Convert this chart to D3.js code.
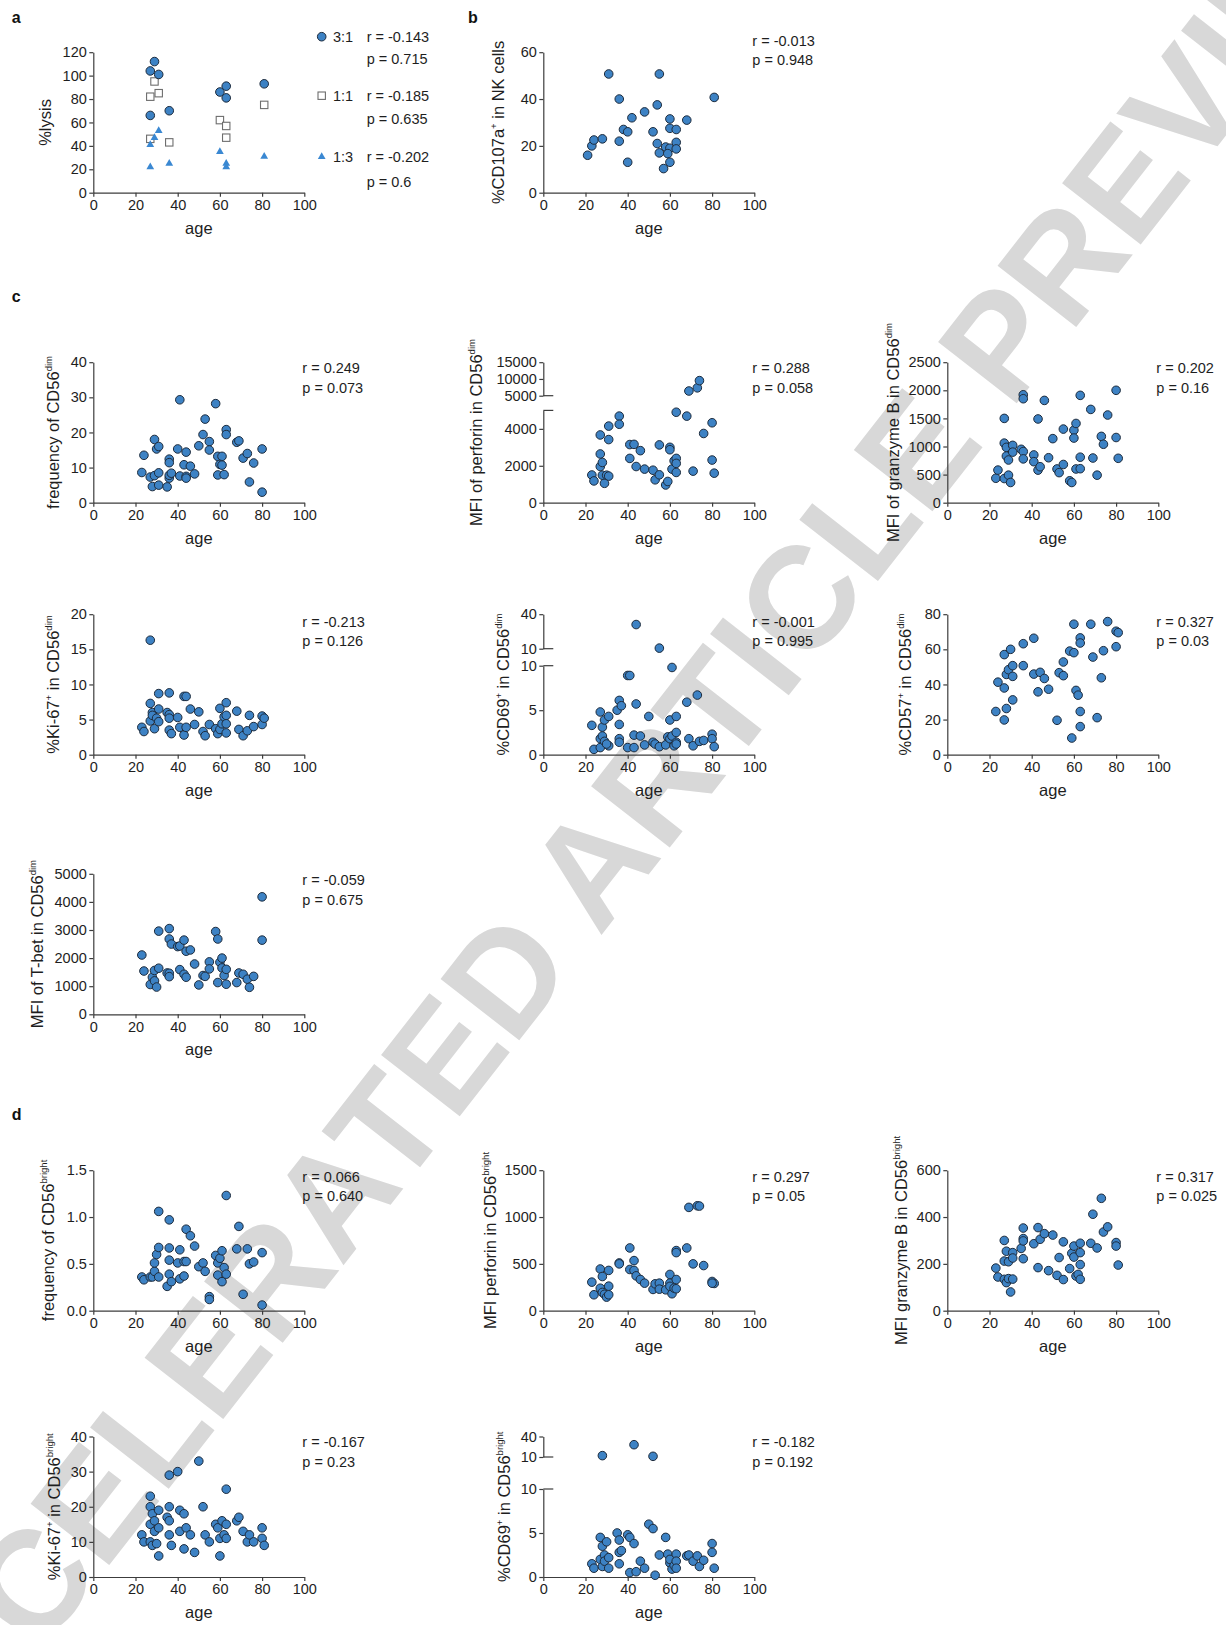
<!DOCTYPE html>
<html><head><meta charset="utf-8">
<script src="https://cdn.jsdelivr.net/npm/d3@7"></script>
<style>body{margin:0;background:#fff} svg{display:block}</style>
</head><body><svg id="fig" width="1226" height="1625"></svg>
<script>
// ---------------- DATA ----------------
const xTicks = [0, 20, 40, 60, 80, 100];
// panel a: %lysis at effector:target ratios
const lysis31 = [[27,104],[29,112],[31,101],[27,66],[36,70],[60,86],[63,91],[63,81],[81,93]];
const lysis11 = [[29,95],[27,82],[31,85],[27,46],[36,43],[60,62],[63,57],[63,47],[81,75]];
const lysis13 = [[27,41],[29,47],[31,53],[27,22],[36,25],[60,35],[63,25],[63,22],[81,31]];
const lysisStats = [["3:1","r = -0.143","p = 0.715"],["1:1","r = -0.185","p = 0.635"],["1:3","r = -0.202","p = 0.6"]];
// panel b
const cd107a = [[21,16],[23,20],[24,22.5],[28,23],[31,50.7],[36,40],[36,22],[38,27],[40,26],[40,13],[42,32],[48,34.5],[52,26],[54,37.5],[55,50.7],[54,21],[55,17],[57,10.3],[58,19.5],[60,19],[59,16.7],[60,31.5],[60,27.5],[60,13],[63,27],[63,21.5],[63,18.7],[68,31],[81,40.7]];
// panel c (CD56dim)
const freqDim = [[23,8.6],[24,13.5],[27,7.3],[28,4.6],[29,18],[30,15.3],[31,16],[29,7.7],[31,8.5],[31,5],[35,4.5],[36,12.4],[36,11.4],[36,7],[36,7.8],[37,8.4],[40,15.3],[41,29.3],[41,7.6],[43,10.8],[44,7.5],[44,7],[44,14.4],[46,10.4],[48,8.2],[50,16.2],[52,19.4],[53,23.8],[55,17.4],[55,15],[58,28.2],[59,13.2],[61,13.2],[60,10.9],[61,10.7],[59,7.9],[62,8],[63,20.8],[63,19.4],[68,17.2],[69,17.6],[71,12.7],[73,14],[74,5.9],[76,11.3],[80,15.3],[80,3]];
const perfDim = [[23,1500],[24,1180],[27,3670],[27,2640],[27,1960],[28,2180],[28,1490],[29,1050],[30,1490],[31,4150],[31,3420],[31,1440],[36,4690],[36,4250],[41,3150],[41,2400],[43,3160],[44,1960],[46,2820],[48,1820],[52,1760],[53,1240],[55,3130],[55,1510],[58,960],[59,1150],[60,3000],[60,2870],[61,1820],[62,2270],[63,2400],[63,2130],[63,1640],[63,4900],[68,4690],[71,1710],[76,3750],[80,4330],[80,2310],[81,1600],[69,6400],[73,7350],[74,9500]];
const gzbDim = [[23,435],[24,580],[27,1500],[27,1060],[27,430],[28,985],[28,830],[29,760],[29,490],[30,360],[31,1020],[31,900],[35,950],[36,1920],[36,1850],[36,910],[36,780],[41,850],[41,730],[43,1490],[43,580],[44,640],[46,1820],[48,800],[50,1140],[52,600],[53,535],[55,1310],[55,680],[58,390],[59,360],[60,1290],[60,1150],[61,600],[61,1410],[63,1910],[63,810],[63,605],[68,1660],[69,795],[71,490],[73,1180],[74,1040],[76,1560],[80,2000],[80,1160],[81,790]];
const ki67Dim = [[23,3.9],[24,3.3],[27,16.3],[27,7.3],[27,4.8],[28,6],[28,5.6],[29,3.7],[30,5.2],[31,8.7],[31,6.5],[31,4.7],[35,6],[36,8.8],[36,5.7],[36,5.2],[36,3.5],[37,3],[40,5.3],[41,3.9],[43,8.3],[44,8.3],[43,2.8],[44,3.9],[46,6.5],[48,4.3],[50,6.1],[52,3.3],[53,2.7],[55,4.3],[58,3.7],[59,3],[60,6.6],[60,3.6],[61,4.4],[62,5.4],[63,7.4],[63,5.6],[63,4.4],[63,3.1],[68,6.2],[69,3.6],[71,2.7],[73,3.4],[74,5.6],[76,4],[80,5.5],[80,4.3],[81,5.2]];
const cd69Dim = [[23,3.3],[24,0.6],[27,4.8],[27,0.8],[27,1.8],[28,3.1],[28,2.1],[29,3.9],[29,1.5],[31,4.3],[31,1.0],[30,1.2],[35,5],[36,6.1],[37,5.5],[36,3.4],[36,1.8],[36,1.4],[40,8.9],[41,8.9],[40,0.8],[43,0.8],[43,2.2],[44,5.7],[46,2.1],[48,1.1],[50,4.3],[52,1.4],[53,1.2],[55,0.9],[58,1.1],[59,2.0],[60,3.9],[60,1.8],[61,2.1],[61,9.8],[62,1.0],[63,4.3],[63,2.5],[63,1.4],[63,1.2],[68,5.9],[69,1.8],[71,1.0],[73,6.7],[74,1.5],[76,1.6],[80,2.3],[80,1.8],[81,0.9],[44,31],[55,10.5]];
const cd57Dim = [[23,24.6],[24,41.3],[27,57],[27,38],[27,19.8],[28,45.7],[28,26.3],[29,48.4],[30,60],[31,50.7],[31,44.6],[31,31.2],[36,63.2],[36,50.7],[41,66.3],[41,45.9],[43,35.8],[44,46.9],[46,43.4],[48,37.3],[52,19.6],[53,46.7],[55,52.8],[55,45],[58,59],[60,58.1],[60,74.3],[59,9.5],[61,36.6],[62,33.9],[63,66.5],[63,63.6],[63,24.6],[63,16],[68,74.3],[69,55.6],[71,21.1],[73,43.8],[74,59.2],[76,75.8],[80,70.3],[80,61.5],[81,69.5]];
const tbetDim = [[23,2110],[24,1540],[27,1060],[28,1320],[29,1190],[29,1560],[30,970],[31,2960],[31,1640],[35,1470],[36,3050],[36,2680],[36,1460],[36,1340],[37,2500],[40,2410],[41,2430],[41,1590],[43,2640],[43,1425],[44,2245],[44,1320],[46,2290],[48,1790],[50,1045],[52,1380],[53,1350],[55,1865],[55,1615],[58,2945],[59,2680],[59,1130],[60,1850],[61,2000],[61,1650],[62,1380],[63,1600],[63,1070],[68,1130],[69,1470],[71,1425],[73,1250],[74,960],[76,1350],[80,4180],[80,2640]];
// panel d (CD56bright)
const freqBright = [[23,0.36],[24,0.33],[27,0.36],[28,0.36],[29,0.42],[29,0.51],[30,0.6],[31,0.675],[31,1.06],[31,0.36],[35,0.26],[36,0.97],[36,0.67],[36,0.54],[36,0.39],[37,0.31],[40,0.51],[41,0.65],[41,0.34],[43,0.525],[44,0.525],[43,0.37],[44,0.87],[46,0.8],[48,0.69],[50,0.47],[52,0.51],[53,0.42],[55,0.15],[55,0.12],[58,0.59],[59,0.51],[59,0.38],[60,0.56],[61,0.64],[61,0.31],[62,0.46],[63,1.23],[63,0.39],[68,0.66],[69,0.9],[71,0.175],[73,0.66],[74,0.5],[76,0.52],[80,0.62],[80,0.06]];
const perfBright = [[23,305],[24,170],[27,445],[27,240],[28,365],[28,195],[29,175],[30,145],[31,430],[31,262],[31,170],[36,510],[36,500],[41,670],[41,440],[43,535],[43,430],[44,372],[46,333],[48,294],[52,227],[53,287],[55,294],[55,230],[58,223],[60,387],[60,294],[60,260],[61,181],[62,241],[63,642],[63,620],[63,333],[63,234],[68,670],[69,1103],[71,500],[73,1120],[74,1117],[76,482],[80,312],[81,291],[80,294]];
const gzbBright = [[23,182],[24,144],[27,300],[27,212],[27,134],[28,254],[28,120],[29,209],[29,137],[30,80],[31,248],[31,225],[31,135],[35,266],[36,353],[36,308],[36,298],[36,222],[41,286],[43,355],[43,184],[44,305],[46,329],[48,171],[50,323],[52,151],[53,227],[55,294],[55,133],[58,180],[59,245],[60,276],[60,229],[61,148],[62,155],[63,288],[63,248],[63,197],[63,134],[68,288],[69,412],[71,268],[73,480],[74,336],[76,358],[80,291],[80,276],[81,195]];
const ki67Bright = [[23,12],[24,10],[27,23],[27,20],[27,15],[27,10],[28,18],[28,9],[29,16],[29,13],[30,9.5],[31,19],[31,14],[31,6],[35,17],[36,29],[36,20],[36,16],[36,12],[37,9],[40,30],[41,19],[41,13],[43,18],[43,8],[44,14],[46,12],[48,7],[50,33],[52,20],[53,12],[55,10],[58,15],[59,14],[60,11],[60,6],[61,16],[62,12],[63,25],[63,15],[63,11],[68,16],[69,17],[71,13],[73,10],[74,12],[76,10],[80,14],[80,11],[81,9]];
const cd69Bright = [[23,1.5],[24,1.0],[27,4.5],[27,2.0],[28,3.5],[28,1.2],[29,2.5],[29,1.8],[30,4.0],[31,2.2],[31,1.0],[35,5.0],[36,4.2],[36,2.8],[36,1.5],[37,3.0],[40,4.8],[41,4.5],[41,0.5],[43,3.8],[44,0.6],[46,1.8],[48,1.0],[50,6.0],[52,5.5],[53,0.2],[55,2.5],[58,4.5],[59,2.6],[60,1.6],[60,2.0],[61,0.9],[62,1.3],[63,2.6],[63,1.8],[63,1.0],[68,2.4],[69,2.5],[71,1.8],[73,2.4],[74,1.2],[76,1.9],[80,3.8],[80,2.8],[81,1.0],[28,12],[43,28],[52,11]];

// ---------------- STYLE / LAYOUT ----------------
const FONT = '"Liberation Sans", Arial, Helvetica, sans-serif';
const AXIS = '#3c3c3c', TXT = '#1e1e1e';
const PT_FILL = '#3d82c4', PT_STROKE = '#1d2b3c';
const W = 211, H = 140.5;
const colX = [93.3, 543.3, 947.3];
const rows = {
  ab: {y0: 192.7, rY: 45.7},
  c1: {y0: 502.7, rY: 373.3},
  c2: {y0: 754.7, rY: 626.7},
  c3: {y0: 1014.3, rY: 885},
  d1: {y0: 1310.7, rY: 1181.7},
  d2: {y0: 1577, rY: 1447}
};

const svg = d3.select('#fig');
svg.append('rect').attr('width',1226).attr('height',1625).attr('fill','#fff');

// watermark (behind)
svg.append('text')
  .attr('transform','translate(625,820) rotate(-52)')
  .attr('text-anchor','middle').attr('dy','0.36em')
  .attr('font-family',FONT).attr('font-size',145).attr('font-weight','bold')
  .attr('fill','#d8d8d8')
  .text('ACCELERATED ARTICLE PREVIEW');

function rich(sel, str, fs) {
  const parts = str.split(/(\^\{[^}]*\})/).filter(s => s.length);
  let up = false;
  parts.forEach(p => {
    if (p.startsWith('^{')) {
      sel.append('tspan').attr('font-size', fs*0.58).attr('dy', -fs*0.42).text(p.slice(2,-1));
      up = true;
    } else {
      const t = sel.append('tspan').text(p);
      if (up) { t.attr('dy', fs*0.42); up = false; }
    }
  });
}

function styleAxis(ax) {
  ax.attr('font-family', FONT).attr('font-size', 14.5);
  ax.select('.domain').attr('stroke', AXIS).attr('stroke-width', 1.2);
  ax.selectAll('.tick line').attr('stroke', AXIS).attr('stroke-width', 1.2);
  ax.selectAll('.tick text').attr('fill', TXT);
}

function panel(cfg) {
  const g = svg.append('g');
  const x0 = colX[cfg.col], row = rows[cfg.row], y0 = row.y0;
  const x = d3.scaleLinear().domain([0,100]).range([x0, x0+W]);
  const fmt = cfg.fmt || d3.format('d');
  let yFn;
  const axes = [];
  if (!cfg.broken) {
    const y = d3.scaleLinear().domain([0, cfg.yMax]).range([y0, y0-H]);
    yFn = y; axes.push([y, cfg.ticks]);
  } else {
    const b = cfg.broken;
    const yl = d3.scaleLinear().domain([0, b.lowMax]).range([y0, y0-b.lowPx]);
    const yu = d3.scaleLinear().domain([b.lowMax, b.upMax]).range([y0-b.lowPx-b.gapPx, y0-H]);
    yFn = v => v <= b.lowMax ? yl(v) : yu(v);
    axes.push([yl, b.lowTicks], [yu, b.upTicks]);
    [yl(b.lowMax), yu(b.lowMax)].forEach(yy =>
      g.append('line').attr('x1', x0).attr('x2', x0+10).attr('y1', yy).attr('y2', yy)
        .attr('stroke', AXIS).attr('stroke-width', 1.2));
  }
  axes.forEach(([s, t]) => {
    const ax = g.append('g').attr('transform', `translate(${x0},0)`)
      .call(d3.axisLeft(s).tickValues(t).tickSize(4).tickPadding(2.5).tickSizeOuter(0).tickFormat(fmt));
    styleAxis(ax);
  });
  const axb = g.append('g').attr('transform', `translate(0,${y0})`)
    .call(d3.axisBottom(x).tickValues(xTicks).tickSize(4).tickPadding(3).tickSizeOuter(0).tickFormat(d3.format('d')));
  styleAxis(axb);

  // labels
  g.append('text').attr('x', x0+W/2).attr('y', y0+41).attr('text-anchor','middle')
    .attr('font-family', FONT).attr('font-size', 16.5).attr('fill', TXT).text('age');
  const yl = g.append('text')
    .attr('transform', `translate(${cfg.labelX + 5.6},${y0-H/2}) rotate(-90)`)
    .attr('text-anchor','middle').attr('font-family', FONT).attr('font-size', 16.5).attr('fill', TXT);
  rich(yl, cfg.label, 16.5);

  if (cfg.r) {
    g.append('text').attr('x', x0+209).attr('y', row.rY).attr('font-family', FONT).attr('font-size', 14.5).attr('fill', TXT).text(cfg.r);
    g.append('text').attr('x', x0+209).attr('y', row.rY+19.5).attr('font-family', FONT).attr('font-size', 14.5).attr('fill', TXT).text(cfg.p);
  }

  if (cfg.data) {
    g.append('g').selectAll('circle').data(cfg.data).join('circle')
      .attr('cx', d => x(d[0])).attr('cy', d => yFn(d[1])).attr('r', 4.3)
      .attr('fill', PT_FILL).attr('stroke', PT_STROKE).attr('stroke-width', 1);
  }
  return {g, x, y: yFn};
}

// ---- panel a ----
const pa = panel({col:0, row:'ab', yMax:120, ticks:[0,20,40,60,80,100,120], label:'%lysis', labelX:45.7});
pa.g.append('g').selectAll('rect').data(lysis11).join('rect')
  .attr('x', d => pa.x(d[0])-3.7).attr('y', d => pa.y(d[1])-3.7).attr('width', 7.4).attr('height', 7.4)
  .attr('fill', '#fff').attr('stroke', '#6e6e6e').attr('stroke-width', 1.1);
const tri = d3.symbol().type(d3.symbolTriangle).size(26);
pa.g.append('g').selectAll('path').data(lysis13).join('path')
  .attr('transform', d => `translate(${pa.x(d[0])},${pa.y(d[1])})`).attr('d', tri).attr('fill', '#3a88d2');
pa.g.append('g').selectAll('circle').data(lysis31).join('circle')
  .attr('cx', d => pa.x(d[0])).attr('cy', d => pa.y(d[1])).attr('r', 4.3)
  .attr('fill', PT_FILL).attr('stroke', PT_STROKE).attr('stroke-width', 1);
// legend
const legY = [36.7, 95.7, 156.7];
const lg = svg.append('g').attr('font-family', FONT).attr('font-size', 14.5).attr('fill', TXT);
lg.append('circle').attr('cx', 321.7).attr('cy', legY[0]).attr('r', 4.3).attr('fill', PT_FILL).attr('stroke', PT_STROKE);
lg.append('rect').attr('x', 318).attr('y', legY[1]-3.7).attr('width', 7.4).attr('height', 7.4).attr('fill','#fff').attr('stroke','#6e6e6e').attr('stroke-width',1.1);
lg.append('path').attr('transform', `translate(321.7,${legY[2]})`).attr('d', tri).attr('fill', '#3a88d2');
lysisStats.forEach((s, i) => {
  lg.append('text').attr('x', 333).attr('y', legY[i]+5).text(s[0]);
  lg.append('text').attr('x', 366.7).attr('y', legY[i]+5).text(s[1]);
  lg.append('text').attr('x', 366.7).attr('y', legY[i]+5+[22.3,23.3,25][i]).text(s[2]);
});

// ---- panel b ----
panel({col:1, row:'ab', yMax:60, ticks:[0,20,40,60], label:'%CD107a^{+} in NK cells', labelX:498.3, data:cd107a, r:'r = -0.013', p:'p = 0.948'});

// ---- panel c ----
panel({col:0, row:'c1', yMax:40, ticks:[0,10,20,30,40], label:'frequency of CD56^{dim}', labelX:53.3, data:freqDim, r:'r = 0.249', p:'p = 0.073'});
panel({col:1, row:'c1', broken:{lowMax:5000, lowPx:92.3, gapPx:14.7, upMax:15000, lowTicks:[0,2000,4000], upTicks:[5000,10000,15000]},
  label:'MFI of perforin in CD56^{dim}', labelX:476.7, data:perfDim, r:'r = 0.288', p:'p = 0.058'});
panel({col:2, row:'c1', yMax:2500, ticks:[0,500,1000,1500,2000,2500], label:'MFI of granzyme B in CD56^{dim}', labelX:893.3, data:gzbDim, r:'r = 0.202', p:'p = 0.16'});
panel({col:0, row:'c2', yMax:20, ticks:[0,5,10,15,20], label:'%Ki-67^{+} in CD56^{dim}', labelX:53.3, data:ki67Dim, r:'r = -0.213', p:'p = 0.126'});
panel({col:1, row:'c2', broken:{lowMax:10, lowPx:89, gapPx:17, upMax:40, lowTicks:[0,5,10], upTicks:[10,40]},
  label:'%CD69^{+} in CD56^{dim}', labelX:503.3, data:cd69Dim, r:'r = -0.001', p:'p = 0.995'});
panel({col:2, row:'c2', yMax:80, ticks:[0,20,40,60,80], label:'%CD57^{+} in CD56^{dim}', labelX:905, data:cd57Dim, r:'r = 0.327', p:'p = 0.03'});
panel({col:0, row:'c3', yMax:5000, ticks:[0,1000,2000,3000,4000,5000], label:'MFI of T-bet in CD56^{dim}', labelX:37.3, data:tbetDim, r:'r = -0.059', p:'p = 0.675'});

// ---- panel d ----
panel({col:0, row:'d1', yMax:1.5, ticks:[0,0.5,1.0,1.5], fmt:d3.format('.1f'), label:'frequency of CD56^{bright}', labelX:48.3, data:freqBright, r:'r = 0.066', p:'p = 0.640'});
panel({col:1, row:'d1', yMax:1500, ticks:[0,500,1000,1500], label:'MFI perforin in CD56^{bright}', labelX:490, data:perfBright, r:'r = 0.297', p:'p = 0.05'});
panel({col:2, row:'d1', yMax:600, ticks:[0,200,400,600], label:'MFI granzyme B in CD56^{bright}', labelX:901.7, data:gzbBright, r:'r = 0.317', p:'p = 0.025'});
panel({col:0, row:'d2', yMax:40, ticks:[0,10,20,30,40], label:'%Ki-67^{+} in CD56^{bright}', labelX:54, data:ki67Bright, r:'r = -0.167', p:'p = 0.23'});
panel({col:1, row:'d2', broken:{lowMax:10, lowPx:88, gapPx:32, upMax:40, lowTicks:[0,5,10], upTicks:[10,40]},
  label:'%CD69^{+} in CD56^{bright}', labelX:504.7, data:cd69Bright, r:'r = -0.182', p:'p = 0.192'});

// panel letters
const letters = [['a',11.7,22.7],['b',468,22.7],['c',11.7,302],['d',11.7,1120]];
svg.append('g').selectAll('text').data(letters).join('text')
  .attr('x', d => d[1]).attr('y', d => d[2]).attr('font-family', FONT).attr('font-weight','bold')
  .attr('font-size', 16).attr('fill', '#111').text(d => d[0]);
</script></body></html>
